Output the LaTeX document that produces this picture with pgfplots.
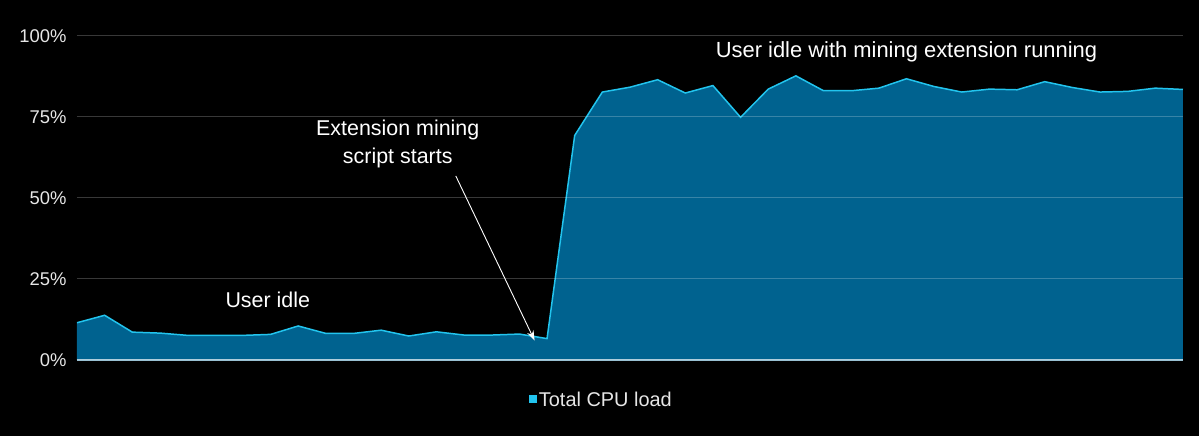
\documentclass[border=0pt]{standalone}
\usepackage{pgfplots}
\pgfplotsset{compat=1.18}
\usetikzlibrary{arrows.meta}
\usepackage{fontspec}
\setmainfont{Liberation Sans}
\definecolor{areablue}{HTML}{00628F}
\definecolor{linecyan}{HTML}{22C4EE}
\definecolor{txt}{HTML}{E6E6E6}
\begin{document}
\begin{tikzpicture}[x=1bp,y=1bp]
\fill[black] (-77,-76) rectangle (1122,360);
\begin{axis}[
  at={(0,0)}, anchor=origin,
  scale only axis, width=1106bp, height=324bp,
  xmin=0, xmax=40, ymin=0, ymax=100,
  axis line style={draw=none},
  xtick=\empty,
  ytick={0,25,50,75,100},
  yticklabels={0\%,25\%,50\%,75\%,100\%},
  yticklabel style={font=\fontsize{18.5}{21}\selectfont, text=txt, xshift=-7bp},
  major tick length=0pt,
  ymajorgrids,
  major grid style={white, opacity=0.22, line width=1pt},
  axis on top,
  clip=false,
  legend style={at={(rel axis cs:0.474,-0.123)}, anchor=center, draw=none, fill=none,
    font=\fontsize{20}{22}\selectfont, text=txt},
  legend image code/.code={\fill[linecyan] (0.12cm,-0.09cm) rectangle (0.36cm,0.15cm);},
]
\addplot[fill=areablue, draw=none, forget plot] coordinates {
(0,11.5)(1,13.8)(2,8.6)(3,8.3)(4,7.6)(5,7.6)(6,7.6)(7,7.9)(8,10.5)(9,8.2)
(10,8.2)(11,9.2)(12,7.4)(13,8.7)(14,7.7)(15,7.7)(16,8.0)(17,6.6)(18,69.3)(19,82.7)
(20,84.2)(21,86.5)(22,82.4)(23,84.7)(24,74.9)(25,83.6)(26,87.7)(27,83.1)(28,83.1)(29,83.9)
(30,86.8)(31,84.4)(32,82.7)(33,83.6)(34,83.4)(35,85.9)(36,84.1)(37,82.7)(38,82.9)(39,83.9)(40,83.5)
} \closedcycle;
\addplot[draw=linecyan, line width=1.5pt, mark=none] coordinates {
(0,11.5)(1,13.8)(2,8.6)(3,8.3)(4,7.6)(5,7.6)(6,7.6)(7,7.9)(8,10.5)(9,8.2)
(10,8.2)(11,9.2)(12,7.4)(13,8.7)(14,7.7)(15,7.7)(16,8.0)(17,6.6)(18,69.3)(19,82.7)
(20,84.2)(21,86.5)(22,82.4)(23,84.7)(24,74.9)(25,83.6)(26,87.7)(27,83.1)(28,83.1)(29,83.9)
(30,86.8)(31,84.4)(32,82.7)(33,83.6)(34,83.4)(35,85.9)(36,84.1)(37,82.7)(38,82.9)(39,83.9)(40,83.5)
};
\addlegendentry{Total CPU load}
\draw[color=white!60!areablue, line width=1.5pt] (axis cs:0,0) -- (axis cs:40,0);
\node[text=white, font=\fontsize{21.5}{24}\selectfont] at (axis cs:6.9,18.7) {User idle};
\node[text=white, font=\fontsize{21.5}{28}\selectfont, align=center] at (axis cs:11.6,66.7) {Extension mining\\script starts};
\node[text=white, font=\fontsize{22}{24}\selectfont] at (axis cs:30.0,95.1) {User idle with mining extension running};
\draw[white, line width=0.9pt, -{Stealth[length=10pt,width=7pt]}] (axis cs:13.7,56.8) -- (axis cs:16.55,6.0);
\end{axis}
\end{tikzpicture}
\end{document}
